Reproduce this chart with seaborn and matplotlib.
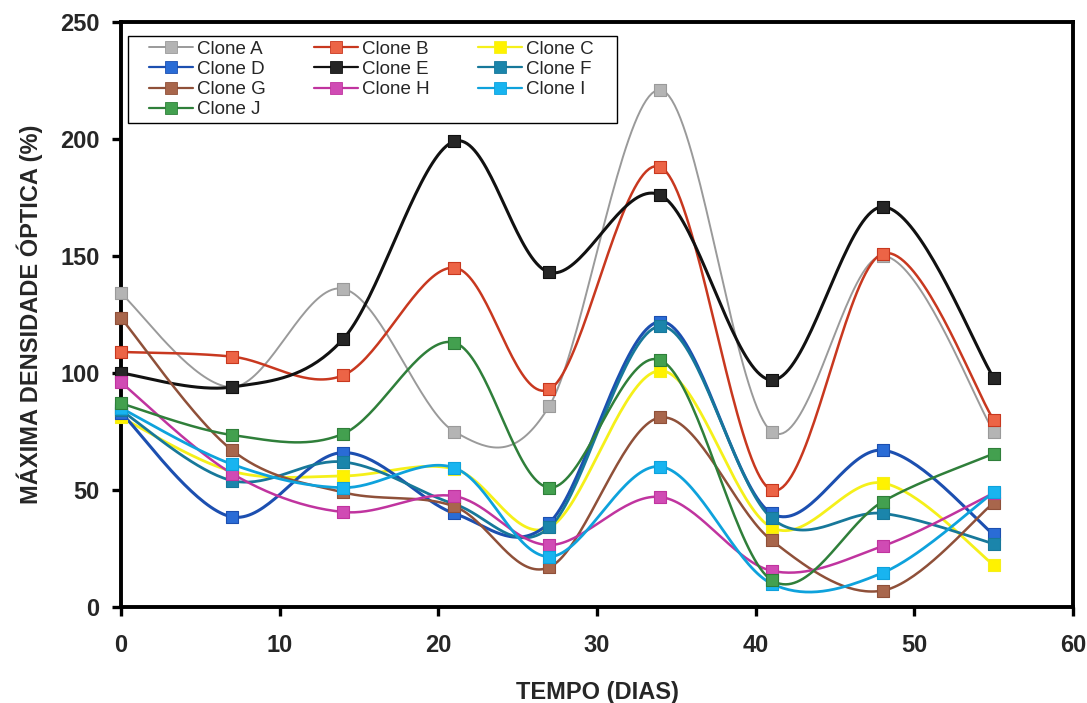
import numpy as np
import pandas as pd
import matplotlib
matplotlib.use("Agg")
import matplotlib.pyplot as plt
from matplotlib.lines import Line2D
from matplotlib.patches import Rectangle
import seaborn as sns

# Sampling days
dias = [0, 7, 14, 21, 27, 34, 41, 48, 55]

# Maximum optical density (%) per clone
clone_a = [134, 94, 136, 75, 86, 221, 75, 150, 75]
clone_b = [109, 107, 99, 145, 93, 188, 50, 151, 80]
clone_c = [81, 58, 56, 59, 34, 101, 34, 53, 18]
clone_d = [83, 38.5, 66, 40, 36, 122, 40, 67, 31]
clone_e = [100, 94, 114.5, 199, 143, 176, 97, 171, 98]
clone_f = [84, 54, 62, 44, 34, 120, 38, 40, 27]
clone_g = [123.5, 67, 49, 43, 17, 81, 28.5, 7, 44.5]
clone_h = [96, 57, 40.6, 47.4, 26.5, 47, 15.5, 26, 48.7]
clone_i = [85, 61, 51, 59.5, 21.5, 60, 10, 14.6, 49]
clone_j = [87, 73.5, 74, 113, 51, 105.5, 11.5, 45, 65.5]

nomes = ["Clone A", "Clone B", "Clone C", "Clone D", "Clone E",
         "Clone F", "Clone G", "Clone H", "Clone I", "Clone J"]
series = [clone_a, clone_b, clone_c, clone_d, clone_e,
          clone_f, clone_g, clone_h, clone_i, clone_j]

# (line colour, marker face colour, line width)
estilos = [
    ("#9a9a9a", "#b4b4b4", 1.4),
    ("#c8381f", "#ec6446", 1.8),
    ("#f5f01a", "#fff200", 2.0),
    ("#1c4fb0", "#2a6cd6", 2.2),
    ("#111111", "#262626", 2.2),
    ("#17789a", "#1b85ab", 2.0),
    ("#8f5039", "#a8664c", 1.8),
    ("#c0349f", "#d04bb4", 1.8),
    ("#0ea2dc", "#18b4f0", 2.0),
    ("#2f7f3a", "#43a04f", 1.8),
]


def suavizar(x, y, passos=40):
    """Smoothed curve through the points (cubic Bezier, Catmull-Rom tangents)."""
    p = np.column_stack([x, y]).astype(float)
    ext = np.vstack([p[0], p, p[-1]])
    t = np.linspace(0, 1, passos)[:, None]
    partes = []
    for i in range(len(p) - 1):
        p0, p1, p2, p3 = ext[i], ext[i + 1], ext[i + 2], ext[i + 3]
        c1 = p1 + (p2 - p0) / 6.0
        c2 = p2 - (p3 - p1) / 6.0
        seg = ((1 - t) ** 3) * p1 + 3 * ((1 - t) ** 2) * t * c1 \
            + 3 * (1 - t) * t ** 2 * c2 + t ** 3 * p2
        partes.append(seg if i == 0 else seg[1:])
    c = np.vstack(partes)
    return c[:, 0], c[:, 1]


sns.set_theme(style="white")
plt.rcParams["font.family"] = ["Liberation Sans", "DejaVu Sans"]

W, H = 1087, 703
fig = plt.figure(figsize=(W / 100, H / 100), dpi=100)
ax = fig.add_axes([121 / W, 1 - 607 / H, (1073 - 121) / W, (607 - 22) / H])

for nome, valores, (cor, face, lw) in zip(nomes, series, estilos):
    xs, ys = suavizar(dias, valores)
    curva = pd.DataFrame({"x": xs, "y": ys})
    sns.lineplot(data=curva, x="x", y="y", color=cor, linewidth=lw,
                 sort=False, estimator=None, ax=ax, zorder=2)

for nome, valores, (cor, face, lw) in zip(nomes, series, estilos):
    pontos = pd.DataFrame({"x": dias, "y": valores})
    sns.scatterplot(data=pontos, x="x", y="y", marker="s", s=70,
                    color=face, edgecolor=cor, linewidth=0.8, ax=ax,
                    zorder=3, clip_on=False)

ax.set_xlim(0, 60)
ax.set_ylim(0, 250)
ax.set_xticks(range(0, 61, 10))
ax.set_yticks(range(0, 251, 50))
ax.tick_params(axis="both", direction="out", length=6.5, width=2.4,
               labelsize=17, color="black", bottom=True, left=True)
ax.tick_params(axis="x", pad=13)
ax.tick_params(axis="y", pad=9)
for lab in ax.get_xticklabels() + ax.get_yticklabels():
    lab.set_fontweight("bold")
for sp in ax.spines.values():
    sp.set_color("black")
    sp.set_linewidth(2.8)

ax.set_xlabel("TEMPO (DIAS)", fontsize=17, fontweight="bold", labelpad=17)
ax.set_ylabel("MÁXIMA DENSIDADE ÓPTICA (%)", fontsize=17, fontweight="bold", labelpad=12)

# Legend filled row by row: A B C / D E F / G H I / J
ordem = [0, 3, 6, 9, 1, 4, 7, 2, 5, 8]
handles = [Line2D([0], [0], color=estilos[k][0], linewidth=min(estilos[k][2], 1.6),
                  marker="s", markersize=8, markerfacecolor=estilos[k][1],
                  markeredgecolor=estilos[k][0], markeredgewidth=0.6)
           for k in ordem]
leg = ax.legend(handles, [nomes[k] for k in ordem], ncol=3, loc="upper left",
                bbox_to_anchor=(0.0252, 0.975), frameon=False,
                fontsize=13.5, handlelength=2.35, handletextpad=0.2,
                columnspacing=2.6, labelspacing=0.17,
                borderpad=0.2, borderaxespad=0.0)

# Rectangular legend frame with wider side margins
fig.canvas.draw()
bb = leg.get_window_extent()
pad_l, pad_r, pad_y = 17, 20, 1
frame = Rectangle((bb.x0 - pad_l, bb.y0 - pad_y),
                  bb.width + pad_l + pad_r, bb.height + 2 * pad_y,
                  transform=None, fill=True, facecolor="white",
                  edgecolor="black", linewidth=1.0, zorder=4)
fig.add_artist(frame)
leg.set_zorder(5)
fig.add_artist(leg)

fig.savefig("out.png", dpi=100)
